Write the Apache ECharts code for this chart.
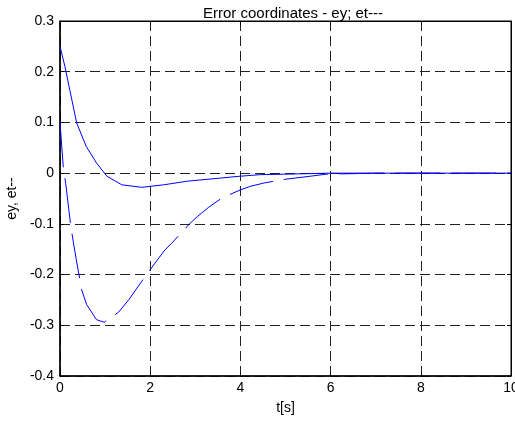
<!DOCTYPE html>
<html><head><meta charset="utf-8">
<script src="https://cdn.jsdelivr.net/npm/echarts@6/dist/echarts.min.js"></script>
<style>html,body{margin:0;padding:0;background:#fff}#c{width:515px;height:423px}</style>
</head><body><div id="c"></div>
<script>
const titleText = 'Error coordinates - ey; et---';
const xLabel = 't[s]';
const yLabel = 'ey, et--';
const tEy = [0,0.11,0.25,0.37,0.58,0.81,1.04,1.37,1.81,2.3,2.81,3.56,4.0,4.44,5.0,5.5,6,7,8,9,10];
const ey  = [0.25,0.21,0.15,0.099,0.053,0.02,-0.006,-0.023,-0.028,-0.023,-0.016,-0.0097,-0.006,-0.003,-0.002,-0.001,0,0,0,0,0];
const tEt = [0,0.074,0.126,0.244,0.36,0.48,0.59,0.81,0.98,1.3,1.53,1.8,2.11,2.33,2.48,2.85,3.04,3.3,3.59,4.0,4.22,4.52,5.0,5.56,5.9,6.5,7,8,9,10];
const et  = [0.1,0.01,-0.02,-0.108,-0.17,-0.23,-0.259,-0.289,-0.294,-0.274,-0.249,-0.215,-0.177,-0.151,-0.138,-0.102,-0.086,-0.067,-0.049,-0.033,-0.026,-0.0195,-0.012,-0.006,-0.002,-0.001,0,0,0,0];

const font = 'Liberation Sans, Arial, sans-serif';
const chart = echarts.init(document.getElementById('c'), null, {renderer:'canvas'});
const gridLine = {show:true, lineStyle:{color:'#222', width:1, type:[10,5]}};
chart.setOption({
  animation:false,
  backgroundColor:'#fff',
  title:{text:titleText, left:288, top:1, textAlign:'center',
    textStyle:{fontFamily:font, fontSize:15, fontWeight:'normal', color:'#000'}},
  grid:{left:60, right:4, top:21, bottom:47, show:true, borderColor:'#000', borderWidth:1,
    containLabel:false, outerBoundsMode:'none'},
  xAxis:[{type:'value', min:0, max:10, interval:2,
    name:xLabel, nameLocation:'middle', nameGap:25,
    nameTextStyle:{fontFamily:font, fontSize:14, color:'#000'},
    axisLine:{show:true, onZero:false, lineStyle:{color:'#000', width:1.5}},
    axisTick:{show:true, inside:true, length:4, lineStyle:{color:'#000'}},
    axisLabel:{fontFamily:font, fontSize:14, color:'#000', margin:5},
    splitLine:gridLine},
    {type:'value', position:'top', min:0, max:10, interval:2,
    axisLine:{show:true, onZero:false, lineStyle:{color:'#000'}},
    axisTick:{show:true, inside:true, length:4, lineStyle:{color:'#000'}},
    axisLabel:{show:false}, splitLine:{show:false}}],
  yAxis:[{type:'value', min:-0.4, max:0.3, interval:0.1,
    name:yLabel, nameLocation:'middle', nameGap:36, nameRotate:90,
    nameTextStyle:{fontFamily:font, fontSize:14, color:'#000'},
    axisLine:{show:true, onZero:false, lineStyle:{color:'#000', width:1.5}},
    axisTick:{show:true, inside:true, length:4, lineStyle:{color:'#000'}},
    axisLabel:{fontFamily:font, fontSize:14, color:'#000', margin:6,
      formatter:v=>String(Math.round(v*10)/10)},
    splitLine:gridLine},
    {type:'value', position:'right', min:-0.4, max:0.3, interval:0.1,
    axisLine:{show:true, onZero:false, lineStyle:{color:'#000'}},
    axisTick:{show:true, inside:true, length:4, lineStyle:{color:'#000'}},
    axisLabel:{show:false}, splitLine:{show:false}}],
  series:[
    {type:'line', name:'ey', data:tEy.map((t,i)=>[t,ey[i]]), showSymbol:false, symbol:'none',
      lineStyle:{color:'#0000ff', width:1}},
    {type:'line', name:'et', data:tEt.map((t,i)=>[t,et[i]]), showSymbol:false, symbol:'none',
      lineStyle:{color:'#0000ff', width:1, type:[45,11]}}
  ]
});
</script></body></html>
